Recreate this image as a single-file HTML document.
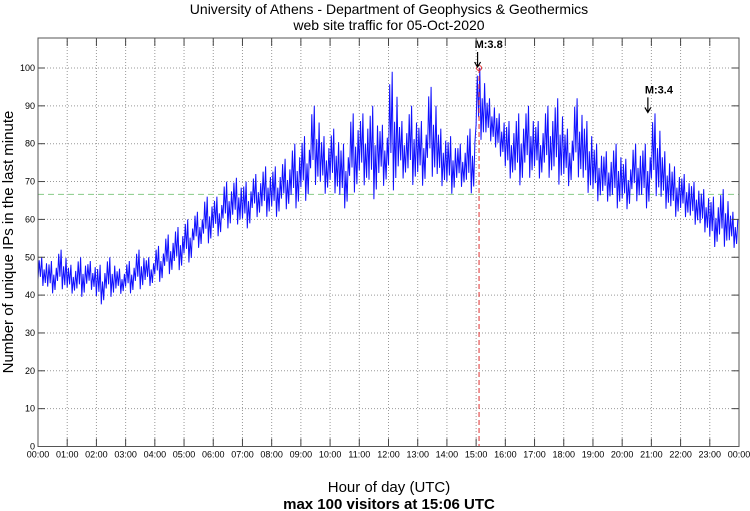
<!DOCTYPE html>
<html><head><meta charset="utf-8"><style>
body{margin:0;background:#fff;}
svg{display:block;font-family:"Liberation Sans",sans-serif;}
</style></head><body>
<svg id="chart" width="750" height="511" viewBox="0 0 750 511" xmlns="http://www.w3.org/2000/svg">
<text x="389" y="14" font-size="14" text-anchor="middle">University of Athens - Department of Geophysics &amp; Geothermics</text>
<text x="389" y="30" font-size="14" text-anchor="middle">web site traffic for 05-Oct-2020</text>
<text transform="translate(13,242) rotate(-90)" font-size="15" text-anchor="middle">Number of unique IPs in the last minute</text>
<text x="389" y="492" font-size="15" text-anchor="middle">Hour of day (UTC)</text>
<text x="389" y="509" font-size="15" font-weight="bold" text-anchor="middle">max 100 visitors at 15:06 UTC</text>
<g id="grid"></g>
<g id="series"></g>
<g id="axes"></g>
</svg>
<script>
const yTicks=[0,10,20,30,40,50,60,70,80,90,100];
const xTickLabels=["00:00","01:00","02:00","03:00","04:00","05:00","06:00","07:00","08:00","09:00","10:00","11:00","12:00","13:00","14:00","15:00","16:00","17:00","18:00","19:00","20:00","21:00","22:00","23:00","00:00"];
// 20-minute bins: low and high values
const binLo=[42,40,41,40,39,41,37,39,40,40,41,42,43,45,46,48,52,53,55,57,58,57,60,60,60,62,62,64,68,66,66,62,66,68,64,68,66,70,68,68,70,68,66,68,66,80,80,76,70,68,70,70,70,68,68,70,66,64,64,62,62,64,62,65,62,60,60,58,56,52,52,52];
const binHi=[50,49,52,48,50,49,48,50,47,49,52,50,53,56,58,60,62,66,66,70,71,70,72,74,74,76,80,82,90,82,84,80,88,88,90,85,99,86,90,86,95,84,82,80,84,100,92,88,86,88,90,86,90,92,84,92,86,80,78,80,76,80,80,88,78,74,72,70,68,66,68,62];
const meanValue=66.6;
const peakHour=15.1, peakValue=100;
const quakes=[{label:"M:3.8",hour:15.05,value:100},{label:"M:3.4",hour:20.88,value:88}];

const X0=38,X1=739,Y0=446.5,Ytop=38;
const xs=h=>X0+h*(X1-X0)/24;
const ys=v=>Y0-v*3.785;
const NS="http://www.w3.org/2000/svg";
function mk(tag,attrs,parent){const e=document.createElementNS(NS,tag);for(const k in attrs)e.setAttribute(k,attrs[k]);parent.appendChild(e);return e;}
const grid=document.getElementById('grid'),axes=document.getElementById('axes'),series=document.getElementById('series');

yTicks.forEach(v=>{
  const l=mk('line',{x1:X0,x2:X1,y1:ys(v),y2:ys(v),stroke:'#999','stroke-width':1,'stroke-dasharray':'1,2'},grid);
  
  
  const t=mk('line',{x1:X0,x2:X0+7,y1:ys(v),y2:ys(v),stroke:'#444'},axes);
  
  
  const t2=mk('line',{x1:X1-7,x2:X1,y1:ys(v),y2:ys(v),stroke:'#444'},axes);
  
  
  const tx=mk('text',{x:X0-3,y:ys(v)+3,'font-size':9,'text-anchor':'end'},axes);
  tx.textContent=v;
  
  
});
xTickLabels.forEach((s,i)=>{
  const x=xs(i);
  const l=mk('line',{x1:x,x2:x,y1:Ytop,y2:Y0,stroke:'#999','stroke-width':1,'stroke-dasharray':'1,2'},grid);
  
  
  const t=mk('line',{x1:x,x2:x,y1:Y0-8,y2:Y0,stroke:'#444'},axes);
  
  
  const t2=mk('line',{x1:x,x2:x,y1:Ytop,y2:Ytop+8,stroke:'#444'},axes);
  
  
  const tx=mk('text',{x:x,y:Y0+11,'font-size':9,'text-anchor':'middle'},axes);
  tx.textContent=s;
  
  
});
const frame=mk('rect',{x:X0,y:Ytop,width:X1-X0,height:Y0-Ytop,fill:'none',stroke:'#555','stroke-width':1},axes);



// mean line
const ml=mk('line',{x1:X0,x2:X1,y1:ys(meanValue),y2:ys(meanValue),stroke:'#8c8','stroke-width':1,'stroke-dasharray':'6,4'},series);



// series
const pattern=[0.25,0.9,0.35,1.0,0.05,0.6,0.15,0.8];
let pts=[];
binLo.forEach((lo,i)=>{
  const hi=binHi[i];
  for(let k=0;k<pattern.length;k++){
    const h=(i*20+k*20/pattern.length)/60;
    pts.push(xs(h).toFixed(1)+','+ys(lo+pattern[k]*(hi-lo)).toFixed(1));
  }
});
const pl=mk('polyline',{points:pts.join(' '),fill:'none',stroke:'#1010ff','stroke-width':1},series);



// peak marker
const pv=mk('line',{x1:xs(peakHour),x2:xs(peakHour),y1:ys(peakValue),y2:Y0,stroke:'#e03030','stroke-width':1,'stroke-dasharray':'5,3'},series);


const pc=mk('circle',{cx:xs(peakHour),cy:ys(peakValue),r:2.5,fill:'none',stroke:'#e03030'},series);



quakes.forEach(q=>{
  const x=xs(q.hour),y=ys(q.value);
  const t=mk('text',{x:x-3,y:y-20,'font-size':11,'font-weight':'bold'},series);
  t.textContent=q.label;
  
  
  const a=mk('path',{d:`M${x},${y-16} L${x},${y-2} M${x-3},${y-6} L${x},${y-1} L${x+3},${y-6}`,stroke:'#000',fill:'none','stroke-width':1.2},series);
  
  
});
</script>
</body></html>
